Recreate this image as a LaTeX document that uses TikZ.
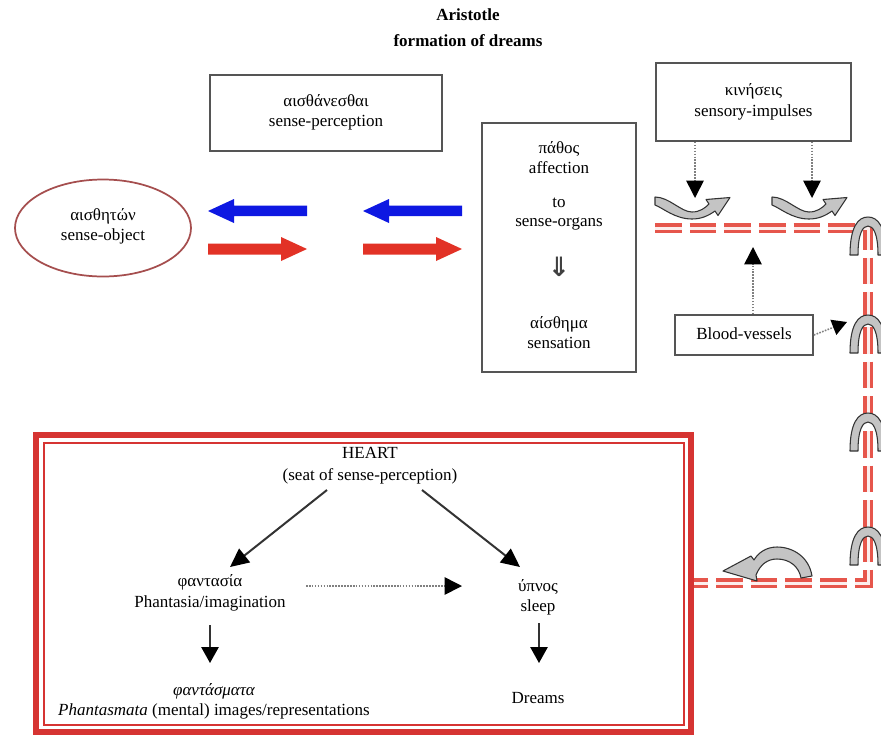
\documentclass[tikz,border=0pt]{standalone}
\usepackage{fontspec}
\setmainfont{Liberation Serif}
\newfontfamily\djv{DejaVu Sans}
\usetikzlibrary{arrows.meta}
\definecolor{vred}{RGB}{230,86,76}
\definecolor{hred}{RGB}{214,52,50}
\definecolor{bblue}{RGB}{14,24,226}
\definecolor{ared}{RGB}{226,50,38}
\definecolor{boxc}{RGB}{85,85,85}
\definecolor{ellc}{RGB}{165,78,78}
\definecolor{agray}{RGB}{196,196,196}
\tikzset{
  txt/.style={inner sep=0pt, text height=8.5pt, text depth=2.8pt, font=\fontsize{12.75}{15}\selectfont},
  ttl/.style={txt, font=\fontsize{12.75}{15}\selectfont\bfseries},
  box/.style={draw=boxc, line width=1.3pt, inner sep=0pt, fill=white},
  dotarr/.style={draw=gray, densely dotted, line width=1.2pt, -{Triangle[length=13pt,width=13pt,color=black,fill=black]}},
  solarr/.style={draw=black!80, line width=1.5pt, -{Triangle[length=14pt,width=13pt,color=black,fill=black]}},
  downarr/.style={draw=black!80, line width=1.3pt, -{Triangle[length=12pt,width=13pt,color=black,fill=black]}},
  curvy/.style={fill=agray, draw=black!80, line width=0.8pt, line join=round},
  pics/uturn/.style={code={
    \filldraw[curvy] (0,0) .. controls (14,0) and (26,15) .. (37,15) .. controls (45,15) and (50,11) .. (54,7)
      -- (51,2.5) -- (75,0.5) -- (63,18.5) -- (60,14) .. controls (53,19) and (46,22) .. (37,22)
      .. controls (20,22) and (8,11) .. (0,8) -- cycle;
  }},
  pics/arch/.style={code={
    \filldraw[curvy] (-18,38) .. controls (-18,10) and (-10,0) .. (0,0) .. controls (10,0) and (18,10) .. (18,38)
      -- (10,38) .. controls (10,16) and (5,9) .. (0,9) .. controls (-5,9) and (-10,16) .. (-10,38) -- cycle;
  }}
}
\begin{document}
\begin{tikzpicture}[x=0.75pt,y=-0.75pt]
\useasboundingbox (0,0) rectangle (881,740);
\fill[white] (0,0) rectangle (881,740);

% title
\node[ttl] (t1) at (468,17) {Aristotle};
\node[ttl] (t2) at (468,43) {formation of dreams};

% sense-perception box
\node[box, minimum width=174pt, minimum height=57pt] (sense) at (326,113) {};
\node[txt] (s1) at (326,103) {αισθάνεσθαι};
\node[txt] (s2) at (326,123) {sense-perception};

% sense-object ellipse
\draw[ellc, line width=1.3pt] (103,228) ellipse [x radius=88, y radius=48.5];
\node[txt] (o1) at (103,217) {αισθητών};
\node[txt] (o2) at (103,237) {sense-object};

% block arrows
\foreach \dx in {0,155}{
  \begin{scope}[shift={(\dx,0)}]
    \fill[bblue] (208,211) -- (234,199) -- (234,205.5) -- (307,205.5) -- (307,216) -- (234,216) -- (234,223) -- cycle;
    \fill[ared] (307,249) -- (281,237) -- (281,243.5) -- (208,243.5) -- (208,254.5) -- (281,254.5) -- (281,261) -- cycle;
  \end{scope}
}

% pathos box
\node[box, minimum width=115.5pt, minimum height=186.75pt] (pathos) at (559,247.5) {};
\node[txt] (p1) at (559,150) {πάθος};
\node[txt] (p2) at (559,170) {affection};
\node[txt] (p3) at (559,204) {to};
\node[txt] (p4) at (559,223) {sense-organs};
\node[inner sep=0pt, text=black!75, font=\djv\bfseries\fontsize{20}{20}\selectfont] (p5) at (559,267) {⇓};
\node[txt] (p6) at (559,325) {αίσθημα};
\node[txt] (p7) at (559,345) {sensation};

% vessel
\draw[draw=vred, double=white!90!vred, double distance=2.25pt, line width=2.4pt, dash pattern=on 20pt off 6pt]
  (655,228) -- (868,228) -- (868,583) -- (693,583);

% kinesis box
\node[box, minimum width=146.25pt, minimum height=58.5pt] (kin) at (753.5,102) {};
\node[txt] (k1) at (753.5,92) {κινήσεις};
\node[txt] (k2) at (753.5,113) {sensory-impulses};
\coordinate (ka) at (695,198);
\coordinate (kb) at (812,198);
\draw[dotarr] (kin.south -| ka) -- (ka);
\draw[dotarr] (kin.south -| kb) -- (kb);

\pic at (655,197) {uturn};
\pic at (772,197) {uturn};

% arches on vessel
\begin{scope}
  \clip (0,0) rectangle (881,740);
  \foreach \yy in {217,315,413,527}{ \pic at (868,\yy) {arch}; }
\end{scope}

% blood vessels
\node[box, minimum width=103.5pt, minimum height=30pt] (blood) at (744,335) {};
\node[txt] (b1) at (744,336) {Blood-vessels};
\coordinate (bv1) at (753,247);
\coordinate (bv2) at (847,322);
\draw[dotarr] (blood.north -| bv1) -- (bv1);
\draw[dotarr, -{Triangle[length=11pt,width=12pt,color=black,fill=black]}] (blood.east) -- (bv2);

% bottom curved arrow
\filldraw[curvy] (812,576) .. controls (809,557) and (793,547) .. (777,547) .. controls (766,547) and (758,553) .. (754,560)
  -- (751,556) -- (723,571) -- (757,581) -- (756,575) .. controls (760,565) and (767,559) .. (777,559)
  .. controls (790,559) and (799,567) .. (801,578) -- cycle;

% heart box
\draw[hred, line width=4.5pt] (36,435) rectangle (691,732);
\draw[hred, line width=1.5pt] (43.5,442.5) rectangle (683.5,724.5);

\node[txt] (h1) at (370,455) {HEART};
\node[txt] (h2) at (370,477) {(seat of sense-perception)};
\coordinate (ha) at (327,490);
\coordinate (hat) at (230,567);
\coordinate (hb) at (422,490);
\coordinate (hbt) at (520,567);
\draw[solarr] (ha) -- (hat);
\draw[solarr] (hb) -- (hbt);

\node[txt] (f1) at (210,583) {φαντασία};
\node[txt] (f2) at (210,604) {Phantasia/imagination};
\node[txt] (u1) at (538,588) {ύπνος};
\node[txt] (u2) at (538,608) {sleep};
\coordinate (da) at (306,586);
\coordinate (dat) at (462,586);
\draw[dotarr] (da) -- (dat);

\coordinate (fa) at (210,625);
\coordinate (fat) at (210,663);
\coordinate (ua) at (539,623);
\coordinate (uat) at (539,663);
\draw[downarr] (fa) -- (fat);
\draw[downarr] (ua) -- (uat);

\node[txt] (m1) at (214,692) {\itshape φαντάσματα};
\node[txt] (m2) at (214,712) {\textit{Phantasmata} (mental) images/representations};
\node[txt] (dr) at (538,700) {Dreams};
\end{tikzpicture}
\end{document}
